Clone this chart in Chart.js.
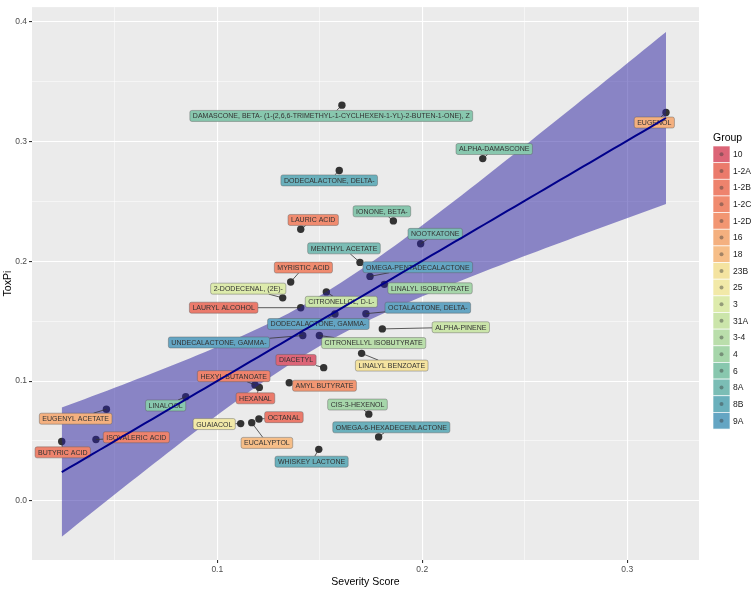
<!DOCTYPE html>
<html>
<head>
<meta charset="utf-8">
<script src="https://cdn.jsdelivr.net/npm/chart.js@4.4.0/dist/chart.umd.min.js"></script>
<style>
html, body { margin: 0; padding: 0; background: #fff; }
#wrap { width: 754px; height: 590px; }
</style>
</head>
<body>
<div id="wrap"><canvas id="toxpiChart" width="754" height="590"></canvas></div>
<script>
// compounds
const compounds = [
    'DAMASCONE, BETA- (1-(2,6,6-TRIMETHYL-1-CYCLHEXEN-1-YL)-2-BUTEN-1-ONE), Z',
    'DODECALACTONE, DELTA-', 'LAURIC ACID', 'MENTHYL ACETATE', 'MYRISTIC ACID',
    'EUGENOL', 'ALPHA-DAMASCONE', 'IONONE, BETA-', 'NOOTKATONE', 'OMEGA-PENTADECALACTONE',
    '2-DODECENAL, (2E)-', 'LINALYL ISOBUTYRATE', 'CITRONELLOL, D-L-', 'LAURYL ALCOHOL',
    'OCTALACTONE, DELTA-', 'DODECALACTONE, GAMMA-', 'ALPHA-PINENE', 'UNDECALACTONE, GAMMA-',
    'CITRONELLYL ISOBUTYRATE', 'LINALYL BENZOATE', 'DIACETYL', 'HEXYL BUTANOATE',
    'AMYL BUTYRATE', 'HEXANAL', 'LINALOOL', 'CIS-3-HEXENOL', 'EUGENYL ACETATE', 'OCTANAL',
    'GUAIACOL', 'OMEGA-6-HEXADECENLACTONE', 'ISOVALERIC ACID', 'EUCALYPTOL', 'BUTYRIC ACID',
    'WHISKEY LACTONE'
];
const severityScore = [
    0.1608, 0.1595, 0.1407, 0.1696, 0.1358, 0.3189, 0.2295, 0.1859, 0.1992, 0.1745,
    0.1319, 0.1815, 0.1532, 0.1407, 0.1725, 0.1574, 0.1805, 0.1417, 0.1498, 0.1704,
    0.1519, 0.1184, 0.1351, 0.1205, 0.0846, 0.1739, 0.0459, 0.1203, 0.1114, 0.1787,
    0.0408, 0.1168, 0.0241, 0.1495
];
const toxPi = [
    0.3302, 0.2757, 0.2267, 0.1990, 0.1827, 0.3240, 0.2856, 0.2336, 0.2145, 0.1873,
    0.1694, 0.1807, 0.1744, 0.1612, 0.1562, 0.1559, 0.1435, 0.1380, 0.1380, 0.1231,
    0.1112, 0.0967, 0.0986, 0.0947, 0.0870, 0.0724, 0.0765, 0.0683, 0.0645, 0.0534,
    0.0512, 0.0653, 0.0496, 0.0430
];
const compoundGroup = [
    '6', '8B', '1-2C', '8A', '1-2C', '16', '6', '6', '8A', '9A',
    '3', '4', '31A', '1-2A', '9A', '9A', '31A', '9A', '3-4', '23B',
    '10', '1-2B', '1-2D', '1-2A', '6', '4', '16', '1-2A', '25', '8B',
    '1-2B', '18', '1-2B', '8B'
];
// where each repelled label sits (data units)
const labelX = [
    0.1556, 0.1546, 0.1468, 0.1618, 0.1420, 0.3132, 0.2351, 0.1803, 0.2063, 0.1978,
    0.1151, 0.2038, 0.1605, 0.1031, 0.2027, 0.1493, 0.2188, 0.1008, 0.1763, 0.1851,
    0.1384, 0.1080, 0.1523, 0.1186, 0.0748, 0.1684, 0.0309, 0.1325, 0.0985, 0.1849,
    0.0605, 0.1242, 0.0246, 0.1460
];
const labelY = [
    0.3212, 0.2674, 0.2344, 0.2107, 0.1947, 0.3157, 0.2936, 0.2416, 0.2228, 0.1950,
    0.1771, 0.1774, 0.1661, 0.1612, 0.1612, 0.1476, 0.1449, 0.1322, 0.1317, 0.1129,
    0.1176, 0.1041, 0.0961, 0.0856, 0.0796, 0.0804, 0.0686, 0.0699, 0.0641, 0.0614,
    0.0531, 0.0484, 0.0405, 0.0327
];

const groupLevels = ['10', '1-2A', '1-2B', '1-2C', '1-2D', '16', '18', '23B', '25',
    '3', '31A', '3-4', '4', '6', '8A', '8B', '9A'];
const groupColors = ['#DC6577', '#EB7A6B', '#EE836D', '#F08B6F', '#F29672', '#F4B07F',
    '#F6BE88', '#F4E3A0', '#F2E9A8', '#DDEBAC', '#CBE5AA', '#BADEAB', '#A6D6AA',
    '#88C7AE', '#7BBDB5', '#6AB0BC', '#64A5C3'];

const xMajor = [0.1, 0.2, 0.3];
const xMinor = [0.05, 0.15, 0.25];
const xTickLabels = ['0.1', '0.2', '0.3'];
const yMajor = [0, 0.1, 0.2, 0.3, 0.4];
const yMinor = [0.05, 0.15, 0.25, 0.35];
const yTickLabels = ['0.0', '0.1', '0.2', '0.3', '0.4'];

// linear fit + 95% confidence band, like geom_smooth(method = 'lm')
const n = severityScore.length;
const mx = severityScore.reduce((a, b) => a + b, 0) / n;
const my = toxPi.reduce((a, b) => a + b, 0) / n;
let sxx = 0, sxy = 0;
for (let i = 0; i < n; i++) {
    sxx += (severityScore[i] - mx) ** 2;
    sxy += (severityScore[i] - mx) * (toxPi[i] - my);
}
const slope = sxy / sxx;
const intercept = my - slope * mx;
let sse = 0;
for (let i = 0; i < n; i++) sse += (toxPi[i] - intercept - slope * severityScore[i]) ** 2;
const sigma = Math.sqrt(sse / (n - 2));
const tCrit = 2.037; // t(0.975, df = 32)
const xLo = Math.min(...severityScore), xHi = Math.max(...severityScore);
const fitLine = [], bandUpper = [], bandLower = [];
for (let k = 0; k <= 80; k++) {
    const x = xLo + (xHi - xLo) * k / 80;
    const yh = intercept + slope * x;
    const se = sigma * Math.sqrt(1 / n + (x - mx) ** 2 / sxx);
    fitLine.push({ x: x, y: yh });
    bandUpper.push({ x: x, y: yh + tCrit * se });
    bandLower.push({ x: x, y: yh - tCrit * se });
}

const FONT = '"Liberation Sans", Arial, Helvetica, sans-serif';
const isIn = (arr, v) => arr.some(a => Math.abs(a - v) < 1e-9);

const panelBg = {
    id: 'panelBg',
    beforeDraw(chart) {
        const { ctx, chartArea: a } = chart;
        ctx.save();
        ctx.fillStyle = '#fff';
        ctx.fillRect(0, 0, chart.width, chart.height);
        ctx.fillStyle = '#EBEBEB';
        ctx.fillRect(a.left, a.top, a.right - a.left, a.bottom - a.top);
        ctx.restore();
    }
};

const repelLabels = {
    id: 'repelLabels',
    afterDatasetDraw(chart, args) {
        if (args.index !== 1) return;
        const { ctx, chartArea: a } = chart;
        const xs = chart.scales.x, ys = chart.scales.y;
        const pad = 3, h = 11;
        ctx.save();
        ctx.beginPath();
        ctx.rect(a.left, a.top, a.right - a.left, a.bottom - a.top);
        ctx.clip();
        ctx.font = '7px ' + FONT;
        const boxes = compounds.map((name, i) => {
            const w = ctx.measureText(name).width + pad * 2;
            return {
                name, w,
                cx: xs.getPixelForValue(labelX[i]), cy: ys.getPixelForValue(labelY[i]),
                px: xs.getPixelForValue(severityScore[i]), py: ys.getPixelForValue(toxPi[i]),
                color: groupColors[groupLevels.indexOf(compoundGroup[i])]
            };
        });
        // segments
        ctx.strokeStyle = '#333';
        ctx.lineWidth = 0.8;
        boxes.forEach(b => {
            const dx = b.px - b.cx, dy = b.py - b.cy;
            const t = Math.min(dx ? (b.w / 2) / Math.abs(dx) : Infinity, dy ? (h / 2) / Math.abs(dy) : Infinity);
            if (t >= 1) return;
            const sx = b.cx + dx * t, sy = b.cy + dy * t;
            if (Math.hypot(b.px - sx, b.py - sy) < 5) return;
            ctx.beginPath();
            ctx.moveTo(sx, sy);
            ctx.lineTo(b.px, b.py);
            ctx.stroke();
        });
        // boxes
        ctx.textAlign = 'center';
        ctx.textBaseline = 'middle';
        boxes.forEach(b => {
            const x0 = b.cx - b.w / 2, y0 = b.cy - h / 2;
            ctx.beginPath();
            ctx.roundRect(x0, y0, b.w, h, 2);
            ctx.fillStyle = b.color;
            ctx.fill();
            ctx.strokeStyle = 'rgba(90,90,90,0.7)';
            ctx.lineWidth = 0.6;
            ctx.stroke();
            ctx.fillStyle = '#333';
            ctx.fillText(b.name, b.cx, b.cy + 0.5);
        });
        ctx.restore();
    }
};

const groupLegend = {
    id: 'groupLegend',
    afterDraw(chart) {
        const { ctx, chartArea: a } = chart;
        const left = a.right + 14, top = 146, size = 17, step = 16.65;
        ctx.save();
        ctx.fillStyle = '#000';
        ctx.font = '10.5px ' + FONT;
        ctx.textBaseline = 'middle';
        ctx.textAlign = 'left';
        ctx.fillText('Group', left, top - 8);
        ctx.font = '8.5px ' + FONT;
        groupLevels.forEach((g, i) => {
            const y = top + i * step;
            ctx.fillStyle = groupColors[i];
            ctx.fillRect(left, y, size, step);
            ctx.strokeStyle = 'rgba(255,255,255,0.8)';
            ctx.lineWidth = 0.8;
            ctx.strokeRect(left, y, size, step);
            ctx.beginPath();
            ctx.arc(left + size / 2, y + step / 2, 2, 0, Math.PI * 2);
            ctx.fillStyle = 'rgba(60,60,60,0.45)';
            ctx.fill();
            ctx.fillStyle = '#1a1a1a';
            ctx.fillText(g, left + size + 3, y + step / 2 + 0.5);
        });
        ctx.restore();
    }
};

const gridStyle = (majors) => ({
    color: '#fff',
    lineWidth: c => (c.tick && isIn(majors, c.tick.value)) ? 1.1 : 0.5,
    tickColor: c => (c.tick && isIn(majors, c.tick.value)) ? '#333' : 'rgba(0,0,0,0)',
    tickLength: 3,
    drawTicks: true
});

new Chart(document.getElementById('toxpiChart').getContext('2d'), {
    type: 'scatter',
    data: {
        datasets: [
            {
                label: 'compounds',
                data: severityScore.map((x, i) => ({ x: x, y: toxPi[i] })),
                pointRadius: 3.7,
                pointBackgroundColor: '#333',
                pointBorderWidth: 0,
                order: 4
            },
            {
                type: 'line',
                label: 'upper',
                data: bandUpper,
                borderWidth: 0,
                pointRadius: 0,
                fill: '+1',
                backgroundColor: 'rgba(40,30,160,0.5)',
                order: 2
            },
            {
                type: 'line',
                label: 'lower',
                data: bandLower,
                borderWidth: 0,
                pointRadius: 0,
                fill: false,
                order: 3
            },
            {
                type: 'line',
                label: 'fit',
                data: fitLine,
                borderColor: '#00008B',
                borderWidth: 2,
                pointRadius: 0,
                fill: false,
                order: 1
            }
        ]
    },
    options: {
        responsive: false,
        animation: false,
        layout: { padding: { top: 2, right: 55, bottom: 0, left: 0 } },
        plugins: { legend: { display: false }, tooltip: { enabled: false } },
        scales: {
            x: {
                type: 'linear',
                min: 0.0096,
                max: 0.335,
                afterBuildTicks: s => { s.ticks = [...xMinor, ...xMajor].sort((p, q) => p - q).map(v => ({ value: v })); },
                afterFit: s => { s.height = 30; },
                grid: gridStyle(xMajor),
                border: { display: false },
                ticks: {
                    autoSkip: false, maxRotation: 0, padding: 2,
                    color: '#4D4D4D', font: { family: FONT, size: 8.5 },
                    callback: v => isIn(xMajor, v) ? xTickLabels[xMajor.findIndex(m => Math.abs(m - v) < 1e-9)] : ''
                },
                title: {
                    display: true, text: 'Severity Score', color: '#000',
                    font: { family: FONT, size: 10.5 }, padding: { top: 0, bottom: 1.7 }
                }
            },
            y: {
                type: 'linear',
                min: -0.0493,
                max: 0.412,
                afterBuildTicks: s => { s.ticks = [...yMinor, ...yMajor].sort((p, q) => p - q).map(v => ({ value: v })); },
                afterFit: s => { s.width = 32; },
                grid: gridStyle(yMajor),
                border: { display: false },
                ticks: {
                    autoSkip: false, padding: 2,
                    color: '#4D4D4D', font: { family: FONT, size: 8.5 },
                    callback: v => isIn(yMajor, v) ? yTickLabels[yMajor.findIndex(m => Math.abs(m - v) < 1e-9)] : ''
                },
                title: {
                    display: true, text: 'ToxPi', color: '#000',
                    font: { family: FONT, size: 10.5 }, padding: { top: 1.7, bottom: 0 }
                }
            }
        }
    },
    plugins: [panelBg, repelLabels, groupLegend]
});
</script>
</body>
</html>
